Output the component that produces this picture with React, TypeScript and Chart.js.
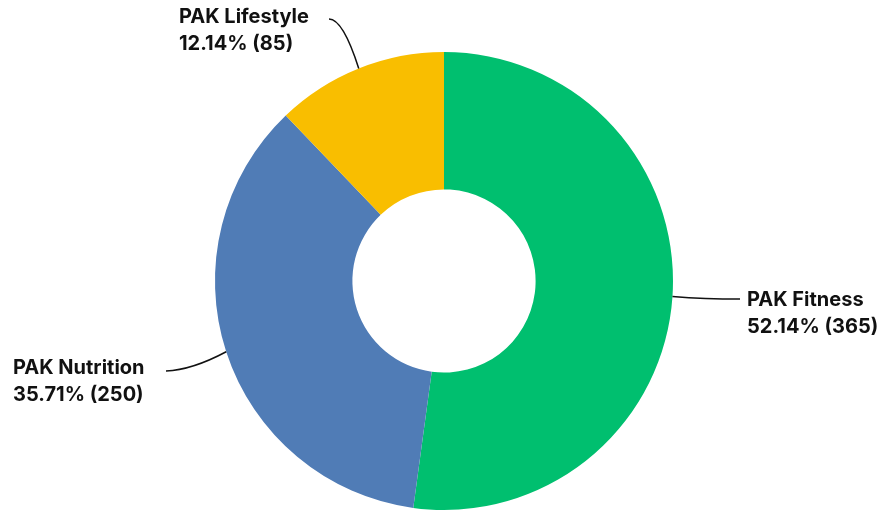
import React, { useEffect, useRef } from "react";
import { Chart, registerables } from "chart.js";

Chart.register(...registerables);

const categories = ["PAK Fitness", "PAK Nutrition", "PAK Lifestyle"];
const counts = [365, 250, 85];
const percents = ["52.14%", "35.71%", "12.14%"];
const colors = ["#00BF6F", "#507CB6", "#F9BE00"];

// label layout: text left x, first line centre y, leader end point, control point
const labelLayout = [
  { tx: 747, ty: 300, ex: 740, ey: 299, cx: 705, cy: 299 },
  { tx: 13, ty: 368, ex: 166, ey: 371, cx: 192, cy: 370 },
  { tx: 179, ty: 17, ex: 329, ey: 19, cx: 343, cy: 19 },
];

const leaderPlugin = {
  id: "leaders",
  afterDraw(chart: any) {
    const ctx = chart.ctx;
    const meta = chart.getDatasetMeta(0);
    ctx.save();
    meta.data.forEach((arc: any, i: number) => {
      const { x, y, startAngle, endAngle, outerRadius } = arc.getProps(
        ["x", "y", "startAngle", "endAngle", "outerRadius"],
        true
      );
      const mid = (startAngle + endAngle) / 2;
      const px = x + Math.cos(mid) * outerRadius;
      const py = y + Math.sin(mid) * outerRadius;
      const L = labelLayout[i];
      ctx.beginPath();
      ctx.strokeStyle = "#111";
      ctx.lineWidth = 1.5;
      ctx.moveTo(px, py);
      ctx.quadraticCurveTo(L.cx, L.cy, L.ex, L.ey);
      ctx.stroke();
      ctx.fillStyle = "#111";
      ctx.font = "bold 20px Inter, sans-serif";
      ctx.textAlign = "left";
      ctx.textBaseline = "middle";
      ctx.fillText(categories[i], L.tx, L.ty);
      ctx.fillText(`${percents[i]} (${counts[i]})`, L.tx, L.ty + 27);
    });
    ctx.restore();
  },
};

export default function App() {
  const ref = useRef<HTMLCanvasElement>(null);
  useEffect(() => {
    if (!ref.current) return;
    const chart = new Chart(ref.current, {
      type: "doughnut",
      data: {
        labels: categories,
        datasets: [
          {
            data: counts,
            backgroundColor: colors,
            borderWidth: 0,
          },
        ],
      },
      options: {
        responsive: false,
        animation: false,
        cutout: "40%",
        layout: { padding: { top: 52, bottom: 1, left: 215, right: 209 } },
        plugins: {
          legend: { display: false },
          tooltip: { enabled: false },
        },
      },
      plugins: [leaderPlugin],
    });
    return () => chart.destroy();
  }, []);
  return (
    <div style={{ position: "absolute", left: 0, top: 0, width: 882, height: 511, background: "#fff" }}>
      <canvas ref={ref} width={882} height={511} />
    </div>
  );
}
